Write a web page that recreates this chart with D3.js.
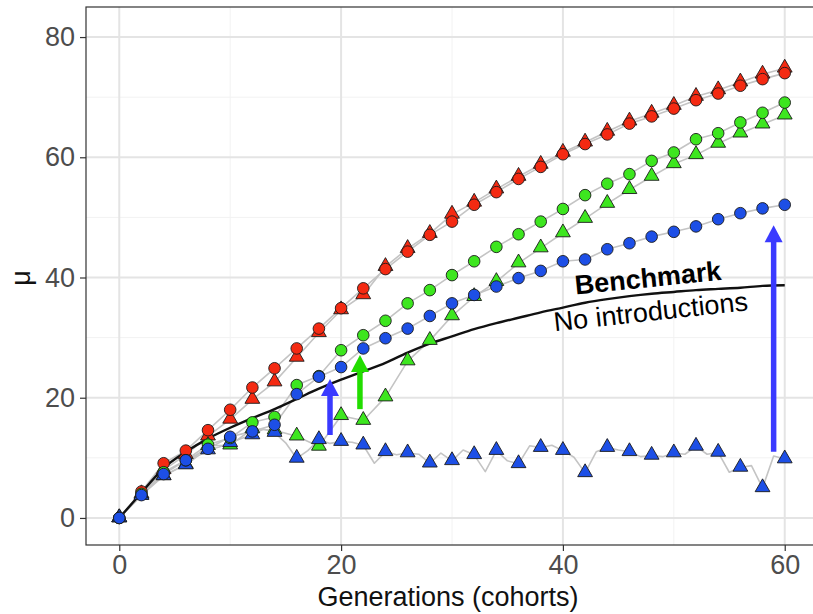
<!DOCTYPE html>
<html>
<head>
<meta charset="utf-8">
<script src="https://cdn.jsdelivr.net/npm/d3@7"></script>
<style>
  html, body { margin: 0; padding: 0; background: #ffffff; }
  svg { display: block; }
</style>
</head>
<body>
<svg id="chart" width="813" height="614"></svg>
<script>
// ---------- DATA ----------
const generations = d3.range(0, 61, 2);
const oddGenerations = d3.range(1, 61, 2);

const redCircles = [0, 4.4, 9.1, 11.2, 14.6, 18.0, 21.7, 24.9, 28.2, 31.5, 34.9, 38.2, 41.4, 44.3, 47.1, 49.3, 52.1, 54.2, 56.4, 58.4, 60.5, 62.2, 63.8, 65.6, 66.8, 68.1, 69.5, 70.6, 71.9, 73.0, 74.0];
const redTriangles = [0, 4.0, 8.0, 10.5, 13.6, 16.4, 19.7, 22.6, 26.7, 30.8, 34.6, 37.1, 41.8, 44.8, 47.3, 50.5, 52.5, 54.7, 56.8, 58.8, 60.8, 62.5, 64.3, 66.0, 67.3, 68.6, 70.1, 71.2, 72.5, 73.8, 74.8];
const greenCircles = [0, 4.0, 7.6, 9.6, 12.2, 13.3, 15.9, 16.8, 22.1, 23.6, 27.9, 30.4, 32.8, 35.7, 37.9, 40.4, 42.7, 45.1, 47.2, 49.3, 51.4, 53.7, 55.6, 57.2, 59.4, 60.8, 63.0, 64.0, 65.8, 67.4, 69.1];
const greenTriangles = [0, 3.8, 7.0, 8.9, 12.0, 12.1, 14.8, 14.6, 13.6, 11.9, 17.0, 16.2, 20.1, 26.1, 29.5, 33.6, 36.8, 39.3, 42.4, 44.9, 47.4, 49.8, 52.3, 54.6, 56.8, 58.9, 60.4, 62.3, 64.0, 65.5, 67.0];
const blueCircles = [0, 3.8, 7.3, 9.6, 11.5, 13.5, 14.4, 15.5, 20.6, 23.5, 25.1, 28.2, 29.9, 31.5, 33.6, 35.7, 37.1, 38.5, 39.9, 41.1, 42.7, 43.0, 44.7, 45.7, 46.8, 47.6, 48.5, 49.7, 50.7, 51.5, 52.1];
const blueTriangles = [0, 3.7, 7.0, 8.8, 11.3, 12.5, 13.8, 14.2, 9.9, 13.0, 12.7, 12.1, 11.0, 10.8, 9.1, 9.5, 10.5, 11.2, 9.0, 11.7, 11.2, 7.5, 11.7, 11.0, 10.4, 10.8, 11.9, 10.9, 8.4, 5.0, 9.8];
// gray trace of the blue-triangle run at odd generations (between markers)
const blueTrianglesOdd = [2.0, 5.8, 8.0, 10.2, 11.8, 13.2, 14.8, 12.5, 11.2, 12.4, 12.6, 9.1, 10.5, 10.6, 10.8, 11.3, 7.7, 9.5, 12.0, 12.1, 10.1, 11.0, 11.3, 10.2, 10.2, 10.6, 10.6, 7.6, 8.7, 10.3];
const benchmark = [0, 4.2, 8.3, 11.0, 13.2, 15.0, 16.6, 18.1, 19.8, 21.5, 23.0, 24.4, 25.8, 27.5, 29.0, 30.2, 31.4, 32.4, 33.3, 34.2, 35.0, 35.8, 36.4, 36.9, 37.3, 37.6, 37.9, 38.1, 38.3, 38.6, 38.7];

const xTicks = [0, 20, 40, 60];
const yTicks = [0, 20, 40, 60, 80];
const xMinor = [10, 30, 50];
const yMinor = [10, 30, 50, 70];

// arrows: generation, from value, to value
const arrowGens = [19.0, 21.7, 59.0];
const arrowFrom = [13.8, 18.1, 11.0];
const arrowTo = [23.1, 27.1, 48.7];
const arrowNames = ["blue", "green", "blue"];

const labels = ["Benchmark", "No introductions"];
const labelGen = [47.75, 48.0];
const labelVal = [38.4, 32.8];

// ---------- STYLE ----------
const colors = { red: "#f42a12", green: "#3de61f", blue: "#1d4fe6" };
const arrowColors = { blue: "#3a3aff", green: "#22dd00" };

const svg = d3.select("#chart");
const panel = { left: 86, top: 7, right: 818, bottom: 545 };

const x = d3.scaleLinear().domain([-3, 63]).range([panel.left, panel.right]);
const y = d3.scaleLinear().domain([-4.5, 85]).range([panel.bottom, panel.top]);

svg.append("defs").append("clipPath").attr("id", "clip")
  .append("rect").attr("x", panel.left).attr("y", panel.top)
  .attr("width", panel.right - panel.left).attr("height", panel.bottom - panel.top);

svg.append("rect").attr("x", panel.left).attr("y", panel.top)
  .attr("width", panel.right - panel.left).attr("height", panel.bottom - panel.top)
  .attr("fill", "#ffffff");

const grid = svg.append("g").attr("clip-path", "url(#clip)");
grid.selectAll(".xminor").data(xMinor).join("line")
  .attr("x1", d => x(d)).attr("x2", d => x(d)).attr("y1", panel.top).attr("y2", panel.bottom)
  .attr("stroke", "#f2f2f2").attr("stroke-width", 1);
grid.selectAll(".yminor").data(yMinor).join("line")
  .attr("y1", d => y(d)).attr("y2", d => y(d)).attr("x1", panel.left).attr("x2", panel.right)
  .attr("stroke", "#f2f2f2").attr("stroke-width", 1);
grid.selectAll(".xmajor").data(xTicks).join("line")
  .attr("x1", d => x(d)).attr("x2", d => x(d)).attr("y1", panel.top).attr("y2", panel.bottom)
  .attr("stroke", "#e4e4e4").attr("stroke-width", 2);
grid.selectAll(".ymajor").data(yTicks).join("line")
  .attr("y1", d => y(d)).attr("y2", d => y(d)).attr("x1", panel.left).attr("x2", panel.right)
  .attr("stroke", "#e4e4e4").attr("stroke-width", 2);

const plot = svg.append("g").attr("clip-path", "url(#clip)");

const line = d3.line().x(d => x(d[0])).y(d => y(d[1]));

const series = [
  { vals: redTriangles, color: colors.red, shape: "triangle" },
  { vals: greenTriangles, color: colors.green, shape: "triangle" },
  { vals: blueTriangles, color: colors.blue, shape: "triangle" },
  { vals: redCircles, color: colors.red, shape: "circle" },
  { vals: greenCircles, color: colors.green, shape: "circle" },
  { vals: blueCircles, color: colors.blue, shape: "circle" }
];

// gray trajectories
series.forEach(s => {
  let pts = generations.map((g, i) => [g, s.vals[i]]);
  if (s.vals === blueTriangles) {
    pts = pts.concat(oddGenerations.map((g, i) => [g, blueTrianglesOdd[i]]))
      .sort((a, b) => a[0] - b[0]);
  }
  plot.append("path").datum(pts).attr("d", line)
    .attr("fill", "none").attr("stroke", "#c4c4c4").attr("stroke-width", 1.6)
    .attr("stroke-linejoin", "round");
});

// benchmark
plot.append("path").datum(generations.map((g, i) => [g, benchmark[i]]))
  .attr("d", d3.line().curve(d3.curveMonotoneX).x(d => x(d[0])).y(d => y(d[1])))
  .attr("fill", "none").attr("stroke", "#111111").attr("stroke-width", 2.4);

// markers
const triSym = d3.symbol().type(d3.symbolTriangle).size(95);
series.forEach(s => {
  const pts = generations.map((g, i) => [g, s.vals[i]]);
  if (s.shape === "circle") {
    plot.append("g").selectAll("circle").data(pts).join("circle")
      .attr("cx", d => x(d[0])).attr("cy", d => y(d[1])).attr("r", 5.8)
      .attr("fill", s.color).attr("stroke", "#1a1a1a").attr("stroke-width", 0.9);
  } else {
    plot.append("g").selectAll("path").data(pts).join("path")
      .attr("d", triSym)
      .attr("transform", d => `translate(${x(d[0])},${y(d[1]) - 0.5})`)
      .attr("fill", s.color).attr("stroke", "#1a1a1a").attr("stroke-width", 0.9);
  }
});

// arrows
arrowGens.forEach((g, i) => {
  const col = arrowColors[arrowNames[i]];
  const ax = x(g), y0 = y(arrowFrom[i]), y1 = y(arrowTo[i]);
  const headLen = 17, headW = 9;
  plot.append("line").attr("x1", ax).attr("x2", ax).attr("y1", y0).attr("y2", y1 + headLen - 1)
    .attr("stroke", col).attr("stroke-width", 5.5);
  plot.append("path")
    .attr("d", `M${ax},${y1} L${ax - headW},${y1 + headLen} L${ax + headW},${y1 + headLen} Z`)
    .attr("fill", col);
});

// annotations
const angle = -5.8;
plot.append("text")
  .attr("transform", `translate(${x(labelGen[0])},${y(labelVal[0])}) rotate(${angle})`)
  .attr("text-anchor", "middle")
  .attr("font-family", "Liberation Sans, Arial, sans-serif")
  .attr("font-weight", "bold").attr("font-size", 27).attr("fill", "#000")
  .text(labels[0]);
plot.append("text")
  .attr("transform", `translate(${x(labelGen[1])},${y(labelVal[1])}) rotate(${angle - 0.4})`)
  .attr("text-anchor", "middle")
  .attr("font-family", "Liberation Sans, Arial, sans-serif")
  .attr("font-size", 27).attr("fill", "#000")
  .text(labels[1]);

// panel border
svg.append("rect").attr("x", panel.left).attr("y", panel.top)
  .attr("width", panel.right - panel.left).attr("height", panel.bottom - panel.top)
  .attr("fill", "none").attr("stroke", "#333333").attr("stroke-width", 1.2);

// axes
const font = "Liberation Sans, Arial, sans-serif";
const xAxis = svg.append("g").attr("transform", `translate(0,${panel.bottom})`)
  .call(d3.axisBottom(x).tickValues(xTicks).tickSize(6).tickPadding(4).tickFormat(d3.format("d")));
const yAxis = svg.append("g").attr("transform", `translate(${panel.left},0)`)
  .call(d3.axisLeft(y).tickValues(yTicks).tickSize(6).tickPadding(5).tickFormat(d3.format("d")));
[xAxis, yAxis].forEach(a => {
  a.select(".domain").remove();
  a.selectAll(".tick line").attr("stroke", "#333333").attr("stroke-width", 1.2);
  a.selectAll(".tick text").attr("font-family", font).attr("font-size", 27).attr("fill", "#4d4d4d");
});

svg.append("text").attr("x", 448).attr("y", 606)
  .attr("text-anchor", "middle").attr("font-family", font).attr("font-size", 27).attr("fill", "#111")
  .text("Generations (cohorts)");
svg.append("text").attr("transform", `translate(30,278) rotate(-90)`)
  .attr("text-anchor", "middle").attr("font-family", font).attr("font-size", 27).attr("fill", "#111")
  .text("μ");
</script>
</body>
</html>
